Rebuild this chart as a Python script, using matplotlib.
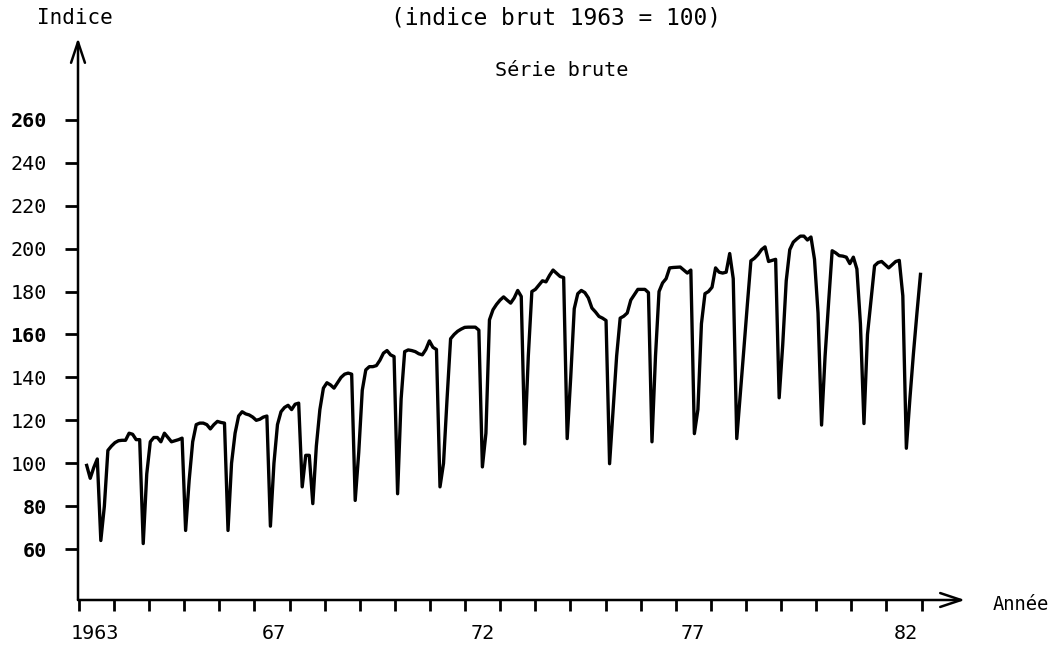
import numpy as np
import matplotlib
matplotlib.use("Agg")
import matplotlib.pyplot as plt

# monthly raw index, April 1963 -> December 1982 (1963 = 100)
v1963 = [99, 93, 98, 102, 64, 80, 106, 108, 109.6]          # Apr-Dec
v1964 = [110.5, 110.7, 110.7, 114, 113.5, 111, 111, 62.6, 95, 110, 112, 112]
v1965 = [110, 114, 112, 110, 110.5, 111, 111.7, 68.7, 92, 110, 118, 118.7]
v1966 = [118.7, 118, 116, 118, 119.5, 119, 118.7, 68.7, 100, 114, 122, 124]
v1967 = [123, 122.5, 121.5, 120, 120.5, 121.5, 122, 70.7, 100, 118, 124, 126]
v1968 = [127, 125, 127.5, 128, 89, 103.7, 103.7, 81.2, 108, 125, 135, 137.5]
v1969 = [136.5, 135, 137.5, 140, 141.5, 142, 141.5, 82.7, 105, 134, 143.5, 145]
v1970 = [145, 145.5, 148, 151.3, 152.5, 150.5, 149.7, 85.8, 130, 152, 152.8, 152.5]
v1971 = [152, 151, 150.5, 153, 157, 154, 153, 89, 100, 130, 158, 160]
v1972 = [161.5, 162.5, 163.3, 163.4, 163.4, 163.4, 162, 98.3, 114, 166.8, 171.5, 174]
v1973 = [176, 177.5, 176, 174.6, 177, 180.5, 177.7, 109, 150, 180, 181, 183]
v1974 = [185, 184.5, 187.5, 190, 188.5, 187, 186.5, 111.5, 140, 172, 179, 180.5]
v1975 = [179.5, 177, 172.3, 170.5, 168.4, 167.6, 166.5, 99.8, 125, 150, 167.6, 168.5]
v1976 = [170, 176, 178.5, 181, 181, 181, 179.5, 110, 150, 180, 184, 186]
v1977 = [191, 191.2, 191.3, 191.4, 190, 188.6, 190, 113.8, 125, 165, 179, 180]
v1978 = [182, 191, 189, 188.6, 189, 197.7, 186, 111.5, 132, 153, 174, 194.3]
v1979 = [195.5, 197.2, 199.5, 200.8, 194, 194.5, 195, 130.5, 155, 185, 199.5, 203]
v1980 = [204.5, 205.8, 205.8, 204, 205.4, 195, 170, 117.8, 150, 175, 199, 198]
v1981 = [196.7, 196.5, 196, 193, 196, 190.5, 165, 118.5, 160, 176, 192, 193.5]
v1982 = [194, 192.5, 191, 192.5, 194, 194.5, 178, 107, 130, 151, 170, 188]

serie = (v1963 + v1964 + v1965 + v1966 + v1967 + v1968 + v1969 + v1970
         + v1971 + v1972 + v1973 + v1974 + v1975 + v1976 + v1977 + v1978
         + v1979 + v1980 + v1981 + v1982)
mois = np.arange(len(serie)) + 3          # months since Jan 1963

year_labels = ["1963", "67", "72", "77", "82"]
year_label_pos = [5.3, 56, 115.2, 174.4, 234.9]
y_ticks = [60, 80, 100, 120, 140, 160, 180, 200, 220, 240, 260]
bold_ticks = [60, 80, 160, 260]

plt.rcParams['font.family'] = ['DejaVu Sans Mono', 'DejaVu Sans']

W, H = 1062, 649
fig = plt.figure(figsize=(W / 100, H / 100), dpi=100)
ax = fig.add_axes([78 / W, 49 / H, (965 - 78) / W, (600 - 38) / H])
ax.set_xlim(0.54, 251.6)
ax.set_ylim(36.3, 298.1)

ax.plot(mois, serie, color='black', lw=2.4, solid_joinstyle='round')

for s in ax.spines.values():
    s.set_visible(False)

# axes drawn as arrows
arrow = dict(arrowstyle='->,head_length=1.5,head_width=0.5', lw=1.8, color='black',
             shrinkA=0, shrinkB=0)
ax.annotate('', xy=(0, 1), xytext=(0, 0), xycoords='axes fraction', arrowprops=arrow)
ax.annotate('', xy=(1, 0), xytext=(0, 0), xycoords='axes fraction', arrowprops=arrow)

ax.set_yticks(y_ticks)
ax.set_yticklabels([str(t) for t in y_ticks])
ax.tick_params(axis='y', direction='out', length=9.5, width=2, pad=13, labelsize=14.5)
for lab, t in zip(ax.get_yticklabels(), y_ticks):
    if t in bold_ticks:
        lab.set_fontweight('bold')

ax.set_xticks(year_label_pos)
ax.set_xticklabels(year_labels)
ax.set_xticks(np.linspace(0.8, 239.3, 25), minor=True)
ax.tick_params(axis='x', which='major', length=0, pad=17, labelsize=14.5)
ax.tick_params(axis='x', which='minor', direction='out', length=8, width=2)

fig.text(75 / W, 1 - 18 / H, "Indice", ha='center', va='center', fontsize=15)
fig.text(556 / W, 1 - 18 / H, "(indice brut 1963 = 100)", ha='center', va='center', fontsize=16.5)
fig.text(562 / W, 1 - 70 / H, "Série brute", ha='center', va='center', fontsize=14.5)
fig.text(993 / W, 1 - 605 / H, "Année", ha='left', va='center', fontsize=13.5)

fig.savefig("out.png", dpi=100)
